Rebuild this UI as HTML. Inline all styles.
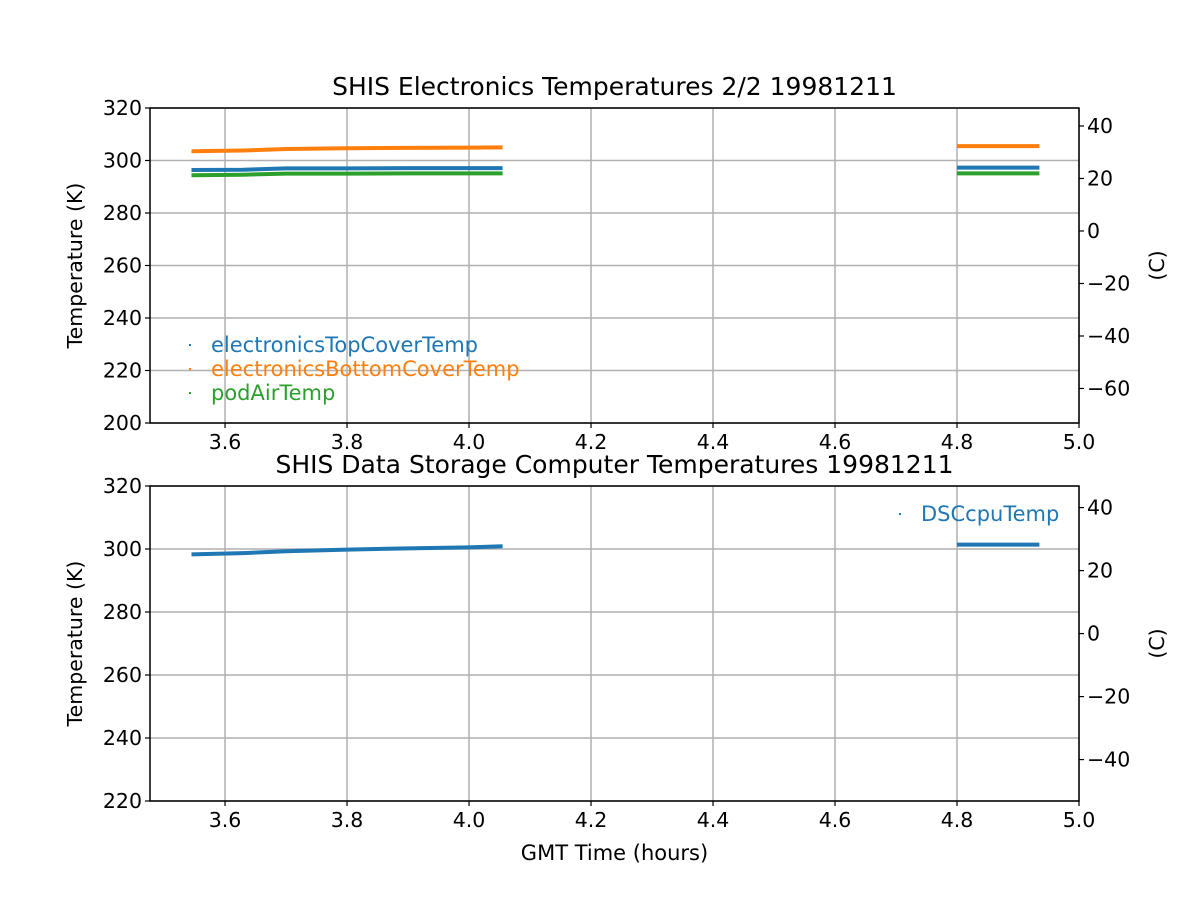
<!DOCTYPE html>
<html><head><meta charset="utf-8"><style>
html,body{margin:0;padding:0;background:#fff;}
svg{display:block;font-family:"DejaVu Sans","Liberation Sans",sans-serif;}
</style></head><body>
<svg id="chart" width="1200" height="900" viewBox="0 0 1200 900" xmlns="http://www.w3.org/2000/svg"></svg>
<script>
const xTicks = [3.6, 3.8, 4.0, 4.2, 4.4, 4.6, 4.8, 5.0];
const xTickLabels = ["3.6", "3.8", "4.0", "4.2", "4.4", "4.6", "4.8", "5.0"];
const topYTicks = [200, 220, 240, 260, 280, 300, 320];
const topCTicks = [-60, -40, -20, 0, 20, 40];
const botYTicks = [220, 240, 260, 280, 300, 320];
const botCTicks = [-40, -20, 0, 20, 40];
// time samples per segment
const seg1Times = [3.545, 3.63, 3.70, 3.80, 3.90, 4.00, 4.055];
const seg2Times = [4.80, 4.935];
const topCoverSeg1 = [296.4, 296.5, 297.0, 297.0, 297.1, 297.1, 297.1];
const topCoverSeg2 = [297.3, 297.3];
const bottomCoverSeg1 = [303.5, 303.8, 304.4, 304.7, 304.8, 304.9, 305.0];
const bottomCoverSeg2 = [305.5, 305.5];
const podAirSeg1 = [294.4, 294.6, 295.0, 295.0, 295.1, 295.1, 295.1];
const podAirSeg2 = [295.1, 295.1];
const dscSeg1 = [298.3, 298.7, 299.3, 299.8, 300.2, 300.5, 300.9];
const dscSeg2 = [301.4, 301.4];

const NS = "http://www.w3.org/2000/svg";
const svg = document.getElementById("chart");
function mk(tag, attrs, parent) {
  const e = document.createElementNS(NS, tag);
  for (const k in attrs) e.setAttribute(k, attrs[k]);
  (parent || svg).appendChild(e);
  return e;
}
const X0 = 150, X1 = 1079, XMIN = 3.477, XMAX = 5.0;
const xs = v => X0 + (v - XMIN) / (XMAX - XMIN) * (X1 - X0);
const TF = 20.5;

function panel(cfg) {
  const g = mk("g", {});
  
  
  const ys = v => cfg.y1 - (v - cfg.kmin) / (cfg.kmax - cfg.kmin) * (cfg.y1 - cfg.y0);
  xTicks.forEach(t => { const l = mk("line", {x1: xs(t), x2: xs(t), y1: cfg.y0, y2: cfg.y1, stroke: "#b0b0b0", "stroke-width": 1.5}, g);
      });
  cfg.yTicks.forEach(t => { const l = mk("line", {x1: X0, x2: X1, y1: ys(t), y2: ys(t), stroke: "#b0b0b0", "stroke-width": 1.5}, g);
      });
  cfg.series.forEach(s => {
    [[seg1Times, s.a], [seg2Times, s.b]].forEach(([tt, vv]) => {
      const pts = tt.map((t, i) => xs(t).toFixed(1) + "," + ys(vv[i]).toFixed(1)).join(" ");
      const p = mk("polyline", {points: pts, fill: "none", stroke: s.color, "stroke-width": 4, "stroke-linecap": "butt"}, g);
      
      
    });
  });
  const f = mk("rect", {x: X0, y: cfg.y0, width: X1 - X0, height: cfg.y1 - cfg.y0, fill: "none", stroke: "#000", "stroke-width": 1.5}, g);
   
  xTicks.forEach((t, i) => {
    mk("line", {x1: xs(t), x2: xs(t), y1: cfg.y1, y2: cfg.y1 + 5, stroke: "#000", "stroke-width": 1.2}, g);
    const tx = mk("text", {x: xs(t), y: cfg.y1 + 26, "text-anchor": "middle", "font-size": TF}, g);
    tx.textContent = xTickLabels[i];
     
  });
  cfg.yTicks.forEach(t => {
    mk("line", {x1: X0 - 5, x2: X0, y1: ys(t), y2: ys(t), stroke: "#000", "stroke-width": 1.2}, g);
    const tx = mk("text", {x: X0 - 8, y: ys(t) + 7, "text-anchor": "end", "font-size": TF}, g);
    tx.textContent = t;
     
  });
  cfg.cTicks.forEach(t => {
    const y = ys(t + 273.15);
    mk("line", {x1: X1, x2: X1 + 5, y1: y, y2: y, stroke: "#000", "stroke-width": 1.2}, g);
    const tx = mk("text", {x: X1 + 8, y: y + 7, "text-anchor": "start", "font-size": TF}, g);
    tx.textContent = t < 0 ? "\u2212" + (-t) : String(t);
     
  });
  const mid = (cfg.y0 + cfg.y1) / 2;
  const yl = mk("text", {x: 82, y: mid, "text-anchor": "middle", "font-size": TF, transform: `rotate(-90 82 ${mid})`}, g);
  yl.textContent = "Temperature (K)";
   
  const rl = mk("text", {x: 1164, y: mid, "text-anchor": "middle", "font-size": TF, transform: `rotate(-90 1164 ${mid})`}, g);
  rl.textContent = "(C)";
   
  const ti = mk("text", {x: 614.5, y: cfg.y0 - 13, "text-anchor": "middle", "font-size": 25}, g);
  ti.textContent = cfg.title;
   
  cfg.legend.forEach(L => {
    const d = mk("rect", {x: L.x - 22, y: L.y - 8, width: 2, height: 2, fill: L.color}, g);
     
    const t = mk("text", {x: L.x, y: L.y, "font-size": 21, fill: L.color}, g);
    t.textContent = L.label;
     
  });
}

panel({name: "electronics-panel", y0: 108, y1: 423, kmin: 200, kmax: 320, yTicks: topYTicks, cTicks: topCTicks,
  title: "SHIS Electronics Temperatures 2/2 19981211",
  series: [
    {name: "electronics-top-cover", color: "#1f77b4", a: topCoverSeg1, b: topCoverSeg2},
    {name: "electronics-bottom-cover", color: "#ff7f0e", a: bottomCoverSeg1, b: bottomCoverSeg2},
    {name: "pod-air", color: "#2ca02c", a: podAirSeg1, b: podAirSeg2}
  ],
  legend: [
    {x: 211, y: 352, color: "#1f77b4", label: "electronicsTopCoverTemp"},
    {x: 211, y: 376, color: "#ff7f0e", label: "electronicsBottomCoverTemp"},
    {x: 211, y: 400, color: "#2ca02c", label: "podAirTemp"}
  ]});
panel({name: "dsc-panel", y0: 486, y1: 801, kmin: 220, kmax: 320, yTicks: botYTicks, cTicks: botCTicks,
  title: "SHIS Data Storage Computer Temperatures 19981211",
  series: [{name: "dsc-cpu", color: "#1f77b4", a: dscSeg1, b: dscSeg2}],
  legend: [{x: 921, y: 521, color: "#1f77b4", label: "DSCcpuTemp"}]});

const xl = mk("text", {x: 614.5, y: 860, "text-anchor": "middle", "font-size": 21});
xl.textContent = "GMT Time (hours)";


</script>
</body></html>
